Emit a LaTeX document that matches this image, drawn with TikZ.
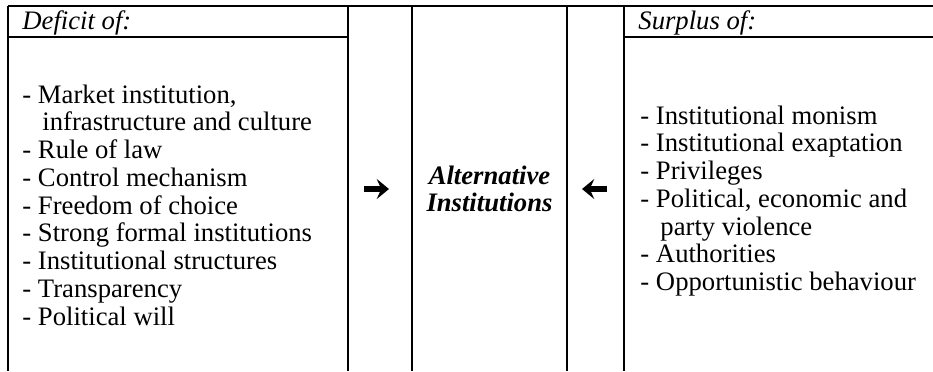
\documentclass[tikz,border=0pt]{standalone}
\usepackage{fontspec}
\setmainfont{Liberation Serif}
\usetikzlibrary{arrows.meta}

\tikzset{
  rule/.style={line width=0.9pt},
  item/.style={anchor=base west, inner sep=0pt, font=\fontsize{12}{13.5}\selectfont},
  head/.style={item, font=\fontsize{12}{13.5}\selectfont\itshape},
  centre/.style={anchor=base, inner sep=0pt, font=\fontsize{12}{13.5}\selectfont\bfseries\itshape},
  pointer/.style={line width=2.4pt, -{Stealth[length=5.5pt,width=9pt,inset=2pt]}},
}

\begin{document}
\begin{tikzpicture}[x=0.45pt,y=0.45pt,yscale=-1,xscale=1]
\useasboundingbox (0,0) rectangle (933,371);

% table rules
\draw[rule] (8,6) -- (933,6);
\draw[rule] (8,37) -- (348,37);
\draw[rule] (624,37) -- (933,37);
\foreach \x in {8,348,412,567,624}
  \draw[rule] (\x,6) -- (\x,371);

% headers
\node[head] (deficit) at (22,29) {Deficit of:};
\node[head] (surplus) at (638,29) {Surplus of:};

% deficit list
\node[item] (d1) at (22,103) {- Market institution,};
\node[item] (d2) at (42,130.75) {infrastructure and culture};
\node[item] (d3) at (22,158.5) {- Rule of law};
\node[item] (d4) at (22,186.25) {- Control mechanism};
\node[item] (d5) at (22,214) {- Freedom of choice};
\node[item] (d6) at (22,241.75) {- Strong formal institutions};
\node[item] (d7) at (22,269.5) {- Institutional structures};
\node[item] (d8) at (22,297.25) {- Transparency};
\node[item] (d9) at (22,325) {- Political will};

% centre
\node[centre] (alt) at (489.5,184) {Alternative};
\node[centre] (inst) at (489.5,211) {Institutions};

% arrows
\coordinate (r1) at (364,189);
\coordinate (r2) at (389,189);
\draw[pointer] (r1) -- (r2);
\coordinate (l1) at (607,189);
\coordinate (l2) at (582,189);
\draw[pointer] (l1) -- (l2);

% surplus list
\node[item] (s1) at (640,124) {- Institutional monism};
\node[item] (s2) at (640,151.75) {- Institutional exaptation};
\node[item] (s3) at (640,179.5) {- Privileges};
\node[item] (s4) at (640,207.25) {- Political, economic and};
\node[item] (s5) at (660,235) {party violence};
\node[item] (s6) at (640,262.75) {- Authorities};
\node[item] (s7) at (640,290.5) {- Opportunistic behaviour};

\end{tikzpicture}
\end{document}
